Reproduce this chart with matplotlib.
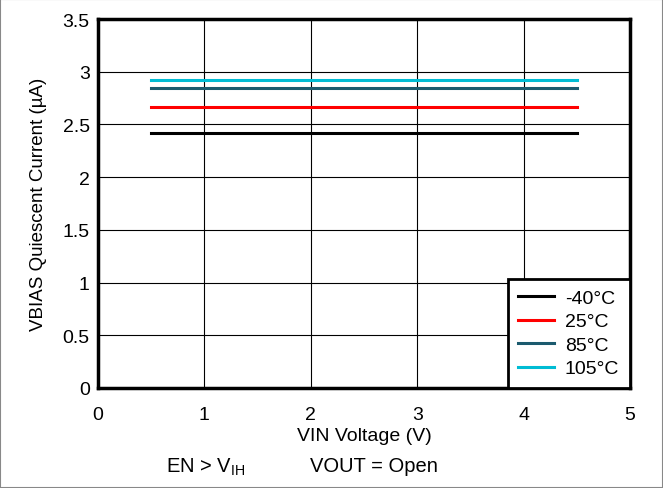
import numpy as np
import matplotlib
matplotlib.use("Agg")
import matplotlib.pyplot as plt
from matplotlib.patches import Rectangle

plt.rcParams['font.family'] = ['Liberation Sans', 'DejaVu Sans']

# data
vin = [0.5, 1.0, 1.5, 2.0, 2.5, 3.0, 3.5, 4.0, 4.5]
iq_m40 = [2.42, 2.42, 2.42, 2.42, 2.42, 2.42, 2.42, 2.42, 2.42]
iq_25 = [2.665, 2.665, 2.665, 2.665, 2.665, 2.665, 2.665, 2.665, 2.665]
iq_85 = [2.85, 2.85, 2.85, 2.85, 2.85, 2.85, 2.85, 2.85, 2.85]
iq_105 = [2.925, 2.925, 2.925, 2.925, 2.925, 2.925, 2.925, 2.925, 2.925]
labels = ['-40°C', '25°C', '85°C', '105°C']
colors = ['#000000', '#FF0000', '#1B5A6E', '#00BCD4']

fs = 14

fig = plt.figure(figsize=(6.63, 4.89), dpi=100)
ax = fig.add_axes([98/663, 1 - 389/489, 532/663, 369/489])

for y, lab, c in zip([iq_m40, iq_25, iq_85, iq_105], labels, colors):
    ax.plot(vin, y, color=c, lw=2.2, label=lab)

ax.set_xlim(0, 5)
ax.set_ylim(0, 3.5)
ax.set_xticks(np.arange(0, 5.1, 1))
ax.set_xticklabels(['0', '1', '2', '3', '4', '5'])
ax.set_yticks(np.arange(0, 3.51, 0.5))
ax.set_yticklabels(['0', '0.5', '1', '1.5', '2', '2.5', '3', '3.5'])
ax.grid(True, color='black', lw=0.8)
ax.tick_params(axis='x', labelsize=fs, length=0, pad=13)
ax.tick_params(axis='y', labelsize=fs, length=0, pad=6)
for s in ax.spines.values():
    s.set_linewidth(2.5)

ax.set_xlabel('VIN Voltage (V)', fontsize=fs, labelpad=3)
ax.set_ylabel('VBIAS Quiescent Current (\u00b5A)', fontsize=13.5, labelpad=11)

leg = ax.legend(loc='lower right', fontsize=fs, frameon=True, fancybox=False,
                borderaxespad=0, handlelength=1.85, handletextpad=0.55,
                labelspacing=0.3, borderpad=0.55)
leg.get_frame().set_edgecolor('black')
leg.get_frame().set_linewidth(2.0)
leg.get_frame().set_alpha(1)

fig.text(166/663, 1 - 467/489, 'EN > V$_{\\mathregular{IH}}$', fontsize=14.5, va='center')
fig.text(310/663, 1 - 467/489, 'VOUT = Open', fontsize=14.5, va='center')

fig.patches.append(Rectangle((0, 0), 1, 1, transform=fig.transFigure,
                             fill=False, edgecolor='#888888', lw=1.5))

fig.savefig('out.png', dpi=100)
